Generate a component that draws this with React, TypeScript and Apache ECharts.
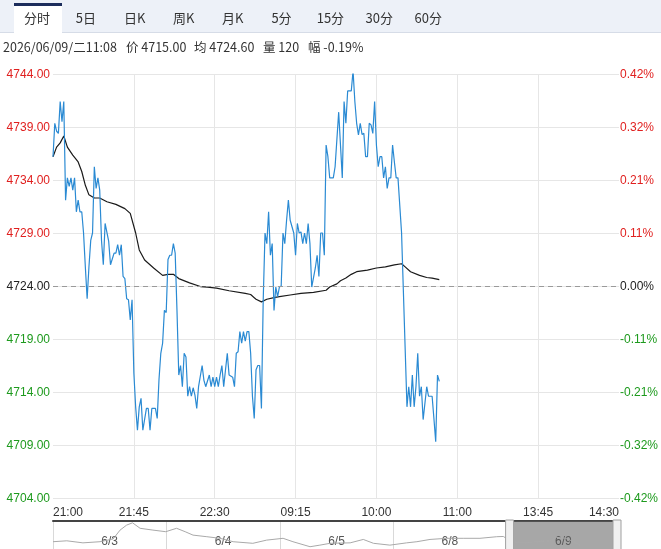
import React, { useEffect, useRef } from 'react';
import * as echarts from 'echarts';

const tabs = ['分时', '5日', '日K', '周K', '月K', '5分', '15分', '30分', '60分'];
const infoParts = ['2026/06/09/二11:08', '价 4715.00', '均 4724.60', '量 120', '幅 -0.19%'];
const infoX = [3, 126, 194, 263, 308];
const timeLabels = ['21:00', '21:45', '22:30', '09:15', '10:00', '11:00', '13:45', '14:30'];
const prevClose = 4724;
const yMin = 4704;
const yMax = 4744;
const yStep = 5;
const labelStepMinutes = 45;
const dayMinutes = 345;
const dayLabels = ['6/3', '6/4', '6/5', '6/8', '6/9'];

const priceMinutes = [0,1,2,3,4,5,6,7,8,9,10,11,12,13,14,15,16,17,18,19,20,21,22,23,24,25,26,27,28,29,31,32,34,35,36,37,38,39,40,41,42,43,44,45,46,47,48,49,50,52,53,54,55,57,58,59,60,61,62,63,64,65,66,67,68,69,70,71,72,73,74,75,76,77,78,79,80,81,83,84,85,87,88,89,90,91,92,93,94,95,97,98,100,101,102,103,104,105,106,107,108,109,110,111,112,113,114,115,116,117,118,119,120,121,122,123,124,125,126,127,128,129,130,131,132,134,135,136,137,138,139,140,141,142,143,144,146,147,148,149,150,151,152,153,154,156,157,159,161,162,163,164,166,167,168,169,170,171,172,173,174,175,176,177,178,179,180,181,182,183,184,185,186,187,188,189,190,191,192,194,197,198,199,200,201,202,203,204,205,206,208,209,210,211,212,213,214,215];
const priceValues = [4736.2,4739.35,4738.6,4738.4,4741.4,4739.5,4741.4,4732.1,4734.2,4733.4,4734.2,4733.05,4734.2,4731.0,4732.1,4731.0,4731.0,4729.0,4725.8,4722.8,4725.8,4728.3,4729.0,4735.25,4733.2,4734.2,4733.05,4728.3,4726.0,4729.9,4728.2,4726.0,4727.1,4727.1,4727.9,4726.9,4727.9,4724.9,4724.7,4722.8,4722.7,4720.8,4722.7,4715.8,4712.6,4710.4,4712.6,4713.4,4710.4,4712.45,4712.45,4710.4,4712.45,4712.45,4711.5,4715.2,4717.65,4718.6,4721.7,4721.5,4726.5,4726.9,4726.9,4728.0,4727.1,4721.7,4715.6,4716.5,4714.5,4717.65,4717.3,4713.6,4714.5,4713.6,4714.4,4713.7,4712.45,4714.5,4716.5,4715.1,4714.5,4715.6,4714.5,4715.4,4714.5,4715.4,4714.5,4715.6,4716.5,4714.5,4717.65,4715.6,4715.4,4714.5,4717.65,4717.8,4719.7,4718.6,4719.7,4718.8,4719.7,4719.7,4717.65,4713.6,4711.5,4716.1,4716.5,4716.5,4712.45,4722.7,4729.0,4728.0,4731.0,4726.9,4728.0,4721.7,4723.9,4723.0,4723.9,4724.0,4729.0,4728.0,4730.2,4732.1,4730.2,4729.0,4726.9,4729.9,4729.0,4729.1,4728.0,4729.0,4728.0,4729.9,4728.0,4723.9,4725.7,4726.9,4724.9,4729.0,4729.0,4726.9,4737.3,4736.2,4734.2,4734.2,4735.25,4740.4,4734.2,4741.4,4739.35,4742.4,4742.4,4744.3,4741.4,4739.35,4738.25,4739.35,4738.3,4738.4,4736.2,4736.2,4739.35,4739.2,4738.4,4741.4,4737.3,4735.25,4736.2,4736.2,4734.2,4735.25,4733.2,4734.2,4734.2,4737.3,4735.7,4734.2,4734.2,4729.0,4712.6,4714.5,4712.6,4715.6,4712.6,4714.5,4717.65,4713.6,4714.5,4711.4,4714.5,4713.6,4713.6,4713.6,4711.5,4709.3,4715.6,4715.0];

const avgMinutes = [0,2,4,6,8,11,14,16,18,20,23,26,30,35,40,43,46,48,51,56,61,64,67,70,76,82,86,91,98,107,110,113,116,119,123,126,132,138,145,152,154,158,160,163,166,169,175,180,185,190,194,196,199,204,208,211,215];
const avgValues = [4736.2,4737.1,4737.5,4738.15,4737.1,4736.35,4735.7,4734.8,4733.5,4732.6,4732.3,4732.3,4731.95,4731.7,4731.3,4730.85,4729.0,4727.4,4726.45,4725.7,4725.0,4725.1,4725.1,4724.7,4724.3,4723.95,4723.9,4723.8,4723.55,4723.3,4723.2,4722.75,4722.5,4722.75,4722.9,4723.0,4723.15,4723.3,4723.4,4723.6,4723.9,4724.2,4724.5,4724.75,4725.1,4725.35,4725.5,4725.7,4725.8,4726.0,4726.1,4725.8,4725.35,4725.0,4724.8,4724.75,4724.6];

const overviewMinutes = [0,42,91,143,183,204,224,242,265,304,343,376,402,426,468,508,548,608,650,700,730,782,812,843,904,944,975,1025,1076,1107,1147,1198,1248,1299,1350,1370,1395,1430,1471,1512,1532,1562,1583,1601];
const overviewValues = [4721,4725,4716,4721,4733,4772,4794,4804,4780,4772,4765,4780,4765,4750,4743,4736,4721,4714,4728,4736,4721,4699,4706,4714,4716,4731,4714,4706,4716,4721,4731,4736,4736,4736,4743,4744,4722,4716,4721,4725,4740,4736,4721,4706];

const FONT = '"Liberation Sans", Arial, "Noto Sans CJK SC", sans-serif';
const CJK = '"Noto Sans CJK SC", "Liberation Sans", sans-serif';
const UP = '#e0201f';
const DOWN = '#1d9a1d';
const FLAT = '#222';

const zip = (xs: number[], ys: number[]) => xs.map((x, i) => [x, ys[i]]);
const colorFor = (v: any) => {
  const n = Number(v);
  if (n > prevClose + 1e-6) return UP;
  if (n < prevClose - 1e-6) return DOWN;
  return FLAT;
};

export default function App() {
  const ref = useRef<HTMLDivElement>(null);
  useEffect(() => {
    if (!ref.current) return;
    const chart = echarts.init(ref.current, undefined, { renderer: 'svg' });
    const axisMax = (timeLabels.length - 1) * labelStepMinutes;
    const overviewMax = dayLabels.length * dayMinutes;
    const selStart = (dayLabels.length - 1) * dayMinutes;
    chart.setOption({
      animation: false,
      grid: [
        { left: 53, right: 41, top: 74, bottom: 51 },
        { left: 53, right: 41, top: 521, bottom: 0 },
      ],
      xAxis: [
        {
          type: 'value', gridIndex: 0, min: 0, max: axisMax, interval: labelStepMinutes,
          axisLine: { show: false }, axisTick: { show: false },
          splitLine: { show: true, showMinLine: false, showMaxLine: false, lineStyle: { color: '#e6e6e6' } },
          axisLabel: {
            formatter: (v: number) => timeLabels[Math.round(v / labelStepMinutes)] ?? '',
            color: '#333', fontSize: 12, fontFamily: FONT, margin: 8,
            alignMinLabel: 'left', alignMaxLabel: 'right',
          },
        },
        {
          type: 'value', gridIndex: 1, min: 0, max: overviewMax, interval: dayMinutes, position: 'top',
          axisLine: { show: true, lineStyle: { color: '#444', width: 2 } },
          axisTick: { show: false }, axisLabel: { show: false },
          splitLine: { show: true, lineStyle: { color: '#d9d9d9' } },
        },
        {
          type: 'category', gridIndex: 1, data: dayLabels, position: 'bottom',
          axisLine: { show: false }, axisTick: { show: false }, splitLine: { show: false },
          axisLabel: { inside: true, margin: 2, color: '#555', fontSize: 12, fontFamily: FONT },
        },
      ],
      yAxis: [
        {
          type: 'value', gridIndex: 0, min: yMin, max: yMax, interval: yStep, position: 'left',
          axisLine: { show: false }, axisTick: { show: false },
          splitLine: { show: true, lineStyle: { color: '#e6e6e6' } },
          axisLabel: { formatter: (v: number) => Number(v).toFixed(2), color: colorFor, fontSize: 12, fontFamily: FONT, margin: 3 },
        },
        {
          type: 'value', gridIndex: 0, min: yMin, max: yMax, interval: yStep, position: 'right',
          axisLine: { show: false }, axisTick: { show: false }, splitLine: { show: false },
          axisLabel: {
            formatter: (v: number) => (((v - prevClose) / prevClose) * 100).toFixed(2) + '%',
            color: colorFor, fontSize: 12, fontFamily: FONT, margin: 1, align: 'left',
          },
        },
        { type: 'value', gridIndex: 1, min: 4689, max: 4812, show: false },
      ],
      series: [
        {
          type: 'line', name: '均价', xAxisIndex: 0, yAxisIndex: 0, data: zip(avgMinutes, avgValues),
          showSymbol: false, symbol: 'none', lineStyle: { color: '#1a1a1a', width: 1.2 }, z: 3,
        },
        {
          type: 'line', name: '价格', xAxisIndex: 0, yAxisIndex: 0, data: zip(priceMinutes, priceValues),
          showSymbol: false, symbol: 'none', lineStyle: { color: '#2a8ad3', width: 1.2 }, z: 4,
          markLine: {
            silent: true, symbol: 'none', label: { show: false },
            lineStyle: { color: '#9a9a9a', type: [5, 4], width: 1 },
            data: [{ yAxis: prevClose }],
          },
        },
        {
          type: 'line', name: '走势', xAxisIndex: 1, yAxisIndex: 2, data: zip(overviewMinutes, overviewValues),
          showSymbol: false, symbol: 'none', lineStyle: { color: '#a9a9a9', width: 1 },
          markArea: {
            silent: true,
            itemStyle: { color: 'rgba(95,95,95,0.55)' },
            data: [[{ xAxis: selStart }, { xAxis: overviewMax }]],
          },
        },
      ],
    });

    const hx1 = chart.convertToPixel({ xAxisIndex: 1 }, selStart) as number;
    const hx2 = chart.convertToPixel({ xAxisIndex: 1 }, overviewMax) as number;
    const graphic: any[] = [
      { type: 'rect', shape: { x: 0, y: 0, width: 661, height: 32 }, style: { fill: '#edf1f8' }, z: 10 },
      { type: 'line', shape: { x1: 0, y1: 32.5, x2: 661, y2: 32.5 }, style: { stroke: '#d6dce7', lineWidth: 1 }, z: 10 },
      { type: 'rect', shape: { x: 14, y: 4, width: 48, height: 29 }, style: { fill: '#ffffff' }, z: 11 },
      { type: 'rect', shape: { x: 14, y: 3, width: 48, height: 3 }, style: { fill: '#1c2d5c' }, z: 12 },
    ];
    tabs.forEach((t, i) => {
      graphic.push({
        type: 'text', x: 37 + i * 48.9, y: 17, z: 13,
        style: { text: t, fill: '#333', font: `13px ${CJK}`, textAlign: 'center', textVerticalAlign: 'middle' },
      });
    });
    infoParts.forEach((t, i) => {
      graphic.push({
        type: 'text', x: infoX[i], y: 46, z: 13,
        style: { text: t, fill: '#333', font: `12.5px ${CJK}`, textAlign: 'left', textVerticalAlign: 'middle' },
      });
    });
    [hx1 + 3, hx2 - 3].forEach((hx) => {
      graphic.push({
        type: 'rect', shape: { x: hx - 4, y: 520, width: 8, height: 30 }, z: 20,
        style: { fill: '#f0f0f0', stroke: '#a0a0a0', lineWidth: 1 },
      });
    });
    chart.setOption({ graphic });
    return () => chart.dispose();
  }, []);
  return <div ref={ref} style={{ position: 'fixed', left: 0, top: 0, width: 661, height: 549 }} />;
}
